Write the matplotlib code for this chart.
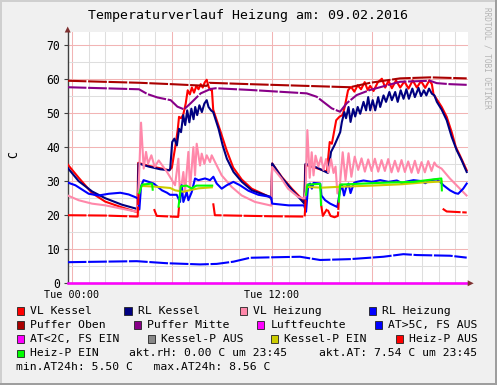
import numpy as np
import matplotlib
matplotlib.use("Agg")
import matplotlib.pyplot as plt
from matplotlib.patches import Rectangle, Polygon
from matplotlib.ticker import FixedLocator, FixedFormatter, MultipleLocator

nan = np.nan

# (hour of day, value in C)
vl_kessel = [(-0.25, 34.9), (0.41, 31.0), (1.21, 26.5), (2.0, 24.0), (3.0, 22.3), (3.93, 20.9),
             (3.98, 35.4), (4.6, 34.5), (5.3, 33.8), (5.85, 33.2), (6.0, 34.0), (6.2, 40.0),
             (6.35, 45.0), (6.43, 48.9), (6.55, 48.5), (6.68, 49.5), (6.83, 52.8), (6.95, 56.7),
             (7.08, 55.5), (7.2, 57.5), (7.33, 56.0), (7.47, 58.0), (7.6, 57.0), (7.73, 58.5),
             (7.85, 57.5), (7.97, 59.0), (8.09, 59.8), (8.22, 57.5), (8.35, 56.7), (8.4, 57.0),
             (8.48, 51.0), (8.89, 45.0), (9.29, 39.0), (9.68, 34.0), (10.19, 30.5), (10.79, 27.8),
             (11.89, 25.3), (11.97, 24.9), (12.02, 35.2), (12.6, 31.2), (13.2, 27.8), (13.95, 24.0),
             (14.0, 34.8), (14.7, 33.8), (15.3, 32.8), (15.47, 41.5), (15.6, 41.0), (15.86, 47.9),
             (16.05, 48.9), (16.25, 49.5), (16.37, 51.8), (16.57, 56.7), (16.75, 57.7), (16.95, 56.3),
             (17.15, 58.2), (17.35, 57.0), (17.57, 59.1), (17.75, 56.8), (17.9, 58.0), (18.1, 56.5),
             (18.35, 59.0), (18.6, 60.1), (18.8, 57.5), (19.0, 59.5), (19.2, 57.3), (19.45, 59.6),
             (19.7, 57.5), (19.95, 59.3), (20.2, 57.2), (20.45, 59.6), (20.7, 57.5), (20.95, 59.4),
             (21.2, 57.4), (21.45, 59.6), (21.6, 58.5), (21.7, 55.5), (21.89, 54.1), (22.19, 51.8),
             (22.49, 48.9), (22.79, 44.4), (23.04, 40.0), (23.28, 37.6), (23.69, 33.2)]

rl_kessel = [(-0.25, 33.9), (0.41, 30.0), (1.21, 27.0), (2.0, 25.0), (3.0, 23.1), (3.95, 21.8),
             (4.0, 35.2), (4.6, 34.3), (5.3, 33.5), (5.85, 33.2), (5.9, 33.7), (5.95, 37.0),
             (6.02, 41.5), (6.15, 42.5), (6.3, 40.5), (6.43, 45.4), (6.55, 44.4), (6.68, 49.4),
             (6.8, 46.5), (6.92, 50.8), (7.05, 47.3), (7.17, 51.3), (7.3, 48.2), (7.4, 51.8),
             (7.52, 49.4), (7.65, 52.3), (7.8, 50.3), (7.95, 52.8), (8.09, 53.8), (8.2, 51.8),
             (8.35, 50.8), (8.48, 50.3), (8.8, 45.4), (9.05, 40.5), (9.3, 36.6), (9.7, 32.7),
             (10.2, 29.8), (10.8, 27.3), (11.89, 25.4), (11.97, 24.6), (12.02, 35.2), (12.6, 31.0),
             (13.2, 27.5), (13.95, 23.4), (14.02, 35.1), (14.7, 34.0), (15.37, 32.4), (15.55, 38.6),
             (15.75, 40.5), (15.93, 42.5), (16.1, 44.4), (16.2, 47.4), (16.35, 50.3), (16.45, 48.5),
             (16.6, 51.8), (16.72, 47.4), (16.88, 51.2), (17.0, 49.0), (17.15, 51.8), (17.3, 49.8),
             (17.5, 53.3), (17.65, 50.8), (17.78, 54.7), (17.9, 50.8), (18.05, 53.8), (18.2, 50.8),
             (18.38, 54.7), (18.5, 51.8), (18.7, 55.2), (18.85, 53.3), (19.05, 56.2), (19.2, 53.8),
             (19.4, 56.2), (19.55, 53.3), (19.73, 56.7), (19.9, 54.2), (20.07, 57.0), (20.22, 54.2),
             (20.43, 57.2), (20.58, 54.7), (20.8, 57.4), (20.95, 55.0), (21.12, 56.7), (21.27, 55.2),
             (21.43, 57.2), (21.6, 55.7), (21.75, 55.2), (21.9, 53.3), (22.19, 51.0), (22.49, 47.9),
             (22.79, 43.0), (23.09, 39.1), (23.39, 36.1), (23.69, 32.7)]

vl_heizung = [(-0.25, 25.8), (0.41, 24.4), (1.21, 23.4), (2.01, 22.9), (3.01, 21.9), (3.91, 21.0),
              (4.02, 30.0), (4.15, 47.2), (4.31, 33.7), (4.45, 38.6), (4.57, 35.1), (4.77, 37.6),
              (4.97, 34.2), (5.21, 36.1), (5.71, 32.7), (6.19, 28.8), (6.39, 36.6), (6.49, 25.8),
              (6.69, 32.7), (6.79, 26.8), (6.99, 38.6), (7.09, 27.8), (7.29, 40.0), (7.39, 31.7),
              (7.49, 41.0), (7.69, 34.6), (7.79, 38.1), (7.95, 35.1), (8.09, 37.6), (8.29, 35.6),
              (8.39, 37.6), (8.59, 35.6), (8.99, 31.7), (9.59, 28.3), (10.19, 25.8), (10.99, 23.9),
              (11.89, 22.9), (11.97, 22.8), (12.01, 34.2), (12.57, 30.8), (12.97, 27.8), (13.57, 25.4),
              (13.95, 24.9), (14.02, 27.0), (14.13, 45.0), (14.27, 31.0), (14.39, 38.5), (14.5, 31.7),
              (14.62, 37.5), (14.79, 34.3), (14.95, 37.0), (15.1, 33.3), (15.25, 36.5), (15.39, 32.5),
              (15.55, 36.5), (15.7, 32.4), (15.82, 34.3), (15.93, 26.4), (16.09, 29.4), (16.25, 38.5),
              (16.42, 30.3), (16.6, 38.2), (16.77, 31.3), (16.97, 37.2), (17.18, 33.3), (17.38, 36.7),
              (17.58, 32.8), (17.78, 36.4), (17.98, 33.0), (18.18, 36.6), (18.38, 32.8), (18.58, 36.2),
              (18.78, 33.0), (18.98, 36.5), (19.18, 32.6), (19.38, 36.0), (19.58, 32.8), (19.78, 36.2),
              (19.98, 32.7), (20.18, 35.8), (20.38, 32.5), (20.58, 36.0), (20.78, 32.4), (20.98, 35.6),
              (21.18, 32.6), (21.38, 35.9), (21.58, 33.0), (21.75, 35.5), (21.88, 34.5), (22.18, 33.7),
              (22.68, 30.8), (23.18, 28.3), (23.68, 25.8)]

rl_heizung = [(-0.25, 29.6), (0.21, 28.8), (1.01, 26.3), (1.61, 25.8), (2.21, 26.3), (2.91, 26.6),
              (3.41, 26.1), (3.81, 25.3), (3.97, 24.9), (4.05, 21.7), (4.15, 28.5), (4.3, 30.3),
              (4.61, 29.8), (4.91, 29.3), (5.41, 27.3), (5.71, 26.6), (5.89, 26.0), (6.29, 26.0),
              (6.49, 23.9), (6.59, 28.8), (6.69, 23.9), (6.89, 26.8), (6.99, 24.4), (7.19, 26.8),
              (7.39, 30.8), (7.59, 30.3), (7.99, 30.8), (8.29, 30.3), (8.49, 31.3), (8.69, 29.3),
              (8.99, 27.8), (9.29, 28.8), (9.69, 29.8), (10.09, 28.8), (10.59, 27.2), (11.19, 26.0),
              (11.89, 25.4), (11.97, 25.0), (12.02, 23.4), (13.0, 22.9), (13.93, 22.9), (14.05, 21.0),
              (14.18, 28.9), (14.3, 29.3), (14.4, 27.8), (14.5, 29.5), (14.9, 29.3), (14.97, 25.8),
              (15.2, 24.4), (15.5, 23.4), (15.93, 22.4), (16.07, 26.8), (16.2, 29.0), (16.33, 25.8),
              (16.45, 28.0), (16.6, 29.3), (16.72, 26.5), (16.93, 29.5), (17.09, 29.8), (17.5, 30.2),
              (18.0, 29.8), (18.5, 30.3), (19.0, 29.8), (19.5, 30.2), (19.9, 29.2), (20.0, 29.8),
              (20.5, 30.3), (21.0, 30.0), (21.2, 29.4), (21.5, 30.3), (21.89, 30.5), (22.1, 29.8),
              (22.29, 28.8), (22.69, 27.3), (23.0, 26.5), (23.18, 26.3), (23.48, 27.8), (23.69, 29.3)]

puffer_oben = [(-0.25, 59.5), (4.09, 58.9), (5.99, 58.5), (8.09, 58.0), (8.25, 58.9), (10.69, 58.5),
               (16.69, 57.6), (17.89, 58.9), (19.69, 60.2), (21.49, 60.5), (23.69, 60.2)]

puffer_mitte = [(-0.25, 57.6), (4.03, 57.0), (4.53, 55.6), (5.13, 54.6), (5.93, 53.8), (6.33, 51.9),
                (6.73, 51.1), (7.13, 52.9), (7.73, 55.8), (8.33, 57.1), (8.63, 57.3), (10.69, 56.8),
                (14.09, 55.8), (14.69, 54.8), (15.59, 51.4), (16.09, 50.4), (16.49, 52.9), (17.09, 55.3),
                (17.89, 56.8), (19.69, 59.2), (21.49, 59.5), (21.89, 58.8), (22.69, 58.5), (23.69, 58.3)]

luftfeuchte = [(-0.25, 0.0), (23.69, 0.0)]

aussen_temp = [(-0.25, 6.2), (3.89, 6.5), (5.69, 5.9), (7.69, 5.55), (8.69, 5.7), (9.69, 6.35),
               (10.69, 7.5), (13.69, 7.8), (14.89, 6.85), (16.69, 7.1), (18.69, 7.8), (19.89, 8.56),
               (20.69, 8.3), (22.69, 8.1), (23.69, 7.54)]

kessel_p_ein = [(4.2, 28.6), (5.0, 28.4), (5.9, 28.0), (6.2, 27.3), (6.7, 26.9), (7.1, 27.4),
                (7.6, 27.9), (8.4, 28.2), (8.41, nan),
                (14.09, 28.3), (15.0, 28.1), (16.3, 28.4), (18.0, 28.7), (19.8, 29.1), (21.0, 29.6),
                (22.19, 29.9)]

heiz_p_aus = [(-0.25, 20.0), (2.0, 19.9), (3.95, 19.6), (4.0, 26.5), (4.01, nan),
              (4.93, 21.8), (5.09, 19.8), (5.5, 19.7), (6.38, 19.5), (6.43, 22.6), (6.44, nan),
              (8.48, 23.5), (8.58, 20.0), (11.9, 19.7), (13.97, 19.6), (14.02, 24.5), (14.03, nan),
              (14.96, 22.9), (15.06, 19.8), (15.32, 21.9), (15.52, 19.8), (15.76, 19.4), (15.96, 19.8),
              (16.02, 24.5), (16.03, nan),
              (22.25, 21.9), (22.49, 21.1), (23.69, 20.8)]

heiz_p_ein = [(4.05, 26.5), (4.21, 29.0), (4.81, 29.3), (4.85, 27.5), (4.86, nan),
              (6.4, 22.5), (6.54, 28.5), (6.88, 28.7), (7.18, 27.9), (7.48, 28.7), (8.42, 28.7),
              (8.43, nan),
              (14.05, 26.0), (14.13, 29.0), (14.9, 29.2), (14.95, 23.0), (14.96, nan),
              (16.02, 24.0), (16.1, 29.0), (17.5, 29.3), (19.0, 29.6), (20.5, 29.8), (21.3, 30.3),
              (22.17, 30.8), (22.2, 27.3)]

title = "Temperaturverlauf Heizung am: 09.02.2016"
x_tick_pos = [0, 6, 12, 18]
x_tick_labels = ["Tue 00:00", "", "Tue 12:00", ""]
y_ticks = [0, 10, 20, 30, 40, 50, 60, 70]

# legend rows: (label, colour) ; None colour = plain text
legend_rows = [
    [("VL Kessel", "#FF0000"), ("RL Kessel", "#000080"), ("VL Heizung", "#FF88AA"), ("RL Heizung", "#0000FF")],
    [("Puffer Oben", "#AA0000"), ("Puffer Mitte", "#880088"), ("Luftfeuchte", "#FF00FF"), ("AT>5C, FS AUS", "#0000FF")],
    [("AT<2C, FS EIN", "#FF00FF"), ("Kessel-P AUS", "#888888"), ("Kessel-P EIN", "#CCCC00"), ("Heiz-P AUS", "#FF0000")],
    [("Heiz-P EIN", "#00FF00"), ("akt.rH: 0.00 C um 23:45", None), ("akt.AT: 7.54 C um 23:45", None)],
    [("min.AT24h: 5.50 C   max.AT24h: 8.56 C", None)],
]
legend_x = [
    [17, 124.5, 240, 368.5],
    [17, 133.5, 257, 375],
    [17, 147.5, 271, 395.7],
    [17, 129.3, 319.3],
    [16],
]
legend_y = [311, 325, 339, 353.3, 367.3]

W, H = 497, 385
mono = "DejaVu Sans Mono"
plt.rcParams["font.family"] = mono


def fx(px):
    return px / W


def fy(py):
    return 1 - py / H


fig = plt.figure(figsize=(W / 100, H / 100), dpi=100, facecolor="#F0F0F0")

# rrdtool style frame
fig.add_artist(Rectangle((0, fy(2)), 1, 2 / H, transform=fig.transFigure, color="#CFCFCF", lw=0))
fig.add_artist(Rectangle((0, 0), 2 / W, 1, transform=fig.transFigure, color="#CFCFCF", lw=0))
fig.add_artist(Rectangle((0, 0), 1, 2 / H, transform=fig.transFigure, color="#9E9E9E", lw=0))
fig.add_artist(Rectangle((fx(W - 2), 0), 2 / W, 1, transform=fig.transFigure, color="#9E9E9E", lw=0))

left, right, top, bottom = 67.7, 467.7, 32.0, 283.3
ax = fig.add_axes([fx(left), fy(bottom), (right - left) / W, (bottom - top) / H])
ax.set_facecolor("white")
ax.set_xlim(-0.25, 23.75)
ax.set_ylim(0, (bottom - top) / 3.404)

series = [
    (vl_kessel, "#FF0000", "-"),
    (rl_kessel, "#000080", "-"),
    (vl_heizung, "#FF88AA", "-"),
    (rl_heizung, "#0000FF", "-"),
    (puffer_oben, "#AA0000", (0, (9, 0.8))),
    (puffer_mitte, "#880088", (0, (9, 0.8))),
    (aussen_temp, "#0000FF", (0, (9, 0.8))),
    (kessel_p_ein, "#CCCC00", "-"),
    (heiz_p_aus, "#FF0000", (0, (9, 0.8))),
    (heiz_p_ein, "#00FF00", "-"),
]
for data, color, ls in series:
    hx, vy = zip(*data)
    ax.plot(hx, vy, color=color, lw=1.5, ls=ls, zorder=3)

hx, vy = zip(*luftfeuchte)
ax.plot(hx, vy, color="#FF00FF", lw=1.8, zorder=4, clip_on=False)

ax.xaxis.set_major_locator(FixedLocator(x_tick_pos))
ax.xaxis.set_major_formatter(FixedFormatter(x_tick_labels))
ax.xaxis.set_minor_locator(MultipleLocator(1))
ax.set_yticks(y_ticks)
ax.yaxis.set_minor_locator(MultipleLocator(5))
ax.grid(which="minor", color="#DEDEDE", lw=0.75, zorder=0)
ax.grid(which="major", color="#F2B4B4", lw=0.75, zorder=1)
ax.set_axisbelow(True)
ax.tick_params(axis="x", which="both", length=0, pad=5, labelsize=7.3)
ax.tick_params(axis="y", which="major", length=3, width=0.8, color="#404040", pad=2.5, labelsize=8.3)
ax.tick_params(axis="y", which="minor", length=0)

for s in ("top", "right"):
    ax.spines[s].set_visible(False)
for s in ("left", "bottom"):
    ax.spines[s].set_color("#404040")
    ax.spines[s].set_linewidth(1.0)

arrow_c = "#7F3131"
fig.add_artist(Polygon([(fx(left), fy(26.5)), (fx(left - 3), fy(32.5)), (fx(left + 3), fy(32.5))],
                       closed=True, transform=fig.transFigure, color=arrow_c, lw=0))
fig.add_artist(Polygon([(fx(right + 6), fy(bottom)), (fx(right), fy(bottom - 3)), (fx(right), fy(bottom + 3))],
                       closed=True, transform=fig.transFigure, color=arrow_c, lw=0))

fig.text(0.5, fy(16), title, ha="center", va="center", fontsize=9.5)
fig.text(fx(13.5), fy(155), "C", rotation=90, ha="center", va="center", fontsize=8.4)
fig.text(fx(487.5), fy(7), "RRDTOOL / TOBI OETIKER", rotation=-90, ha="center", va="top",
         fontsize=5.6, color="#B4B4B4")

for row, xs, yc in zip(legend_rows, legend_x, legend_y):
    for (label, color), x0 in zip(row, xs):
        if color is None:
            fig.text(fx(x0), fy(yc), label, ha="left", va="center", fontsize=8.2)
        else:
            fig.add_artist(Rectangle((fx(x0), fy(yc + 3.7)), 7.4 / W, 7.4 / H, transform=fig.transFigure,
                                     facecolor=color, edgecolor="#222222", lw=0.6))
            fig.text(fx(x0 + 13.3), fy(yc), label, ha="left", va="center", fontsize=8.2)

fig.savefig("out.png", dpi=100, facecolor=fig.get_facecolor())
